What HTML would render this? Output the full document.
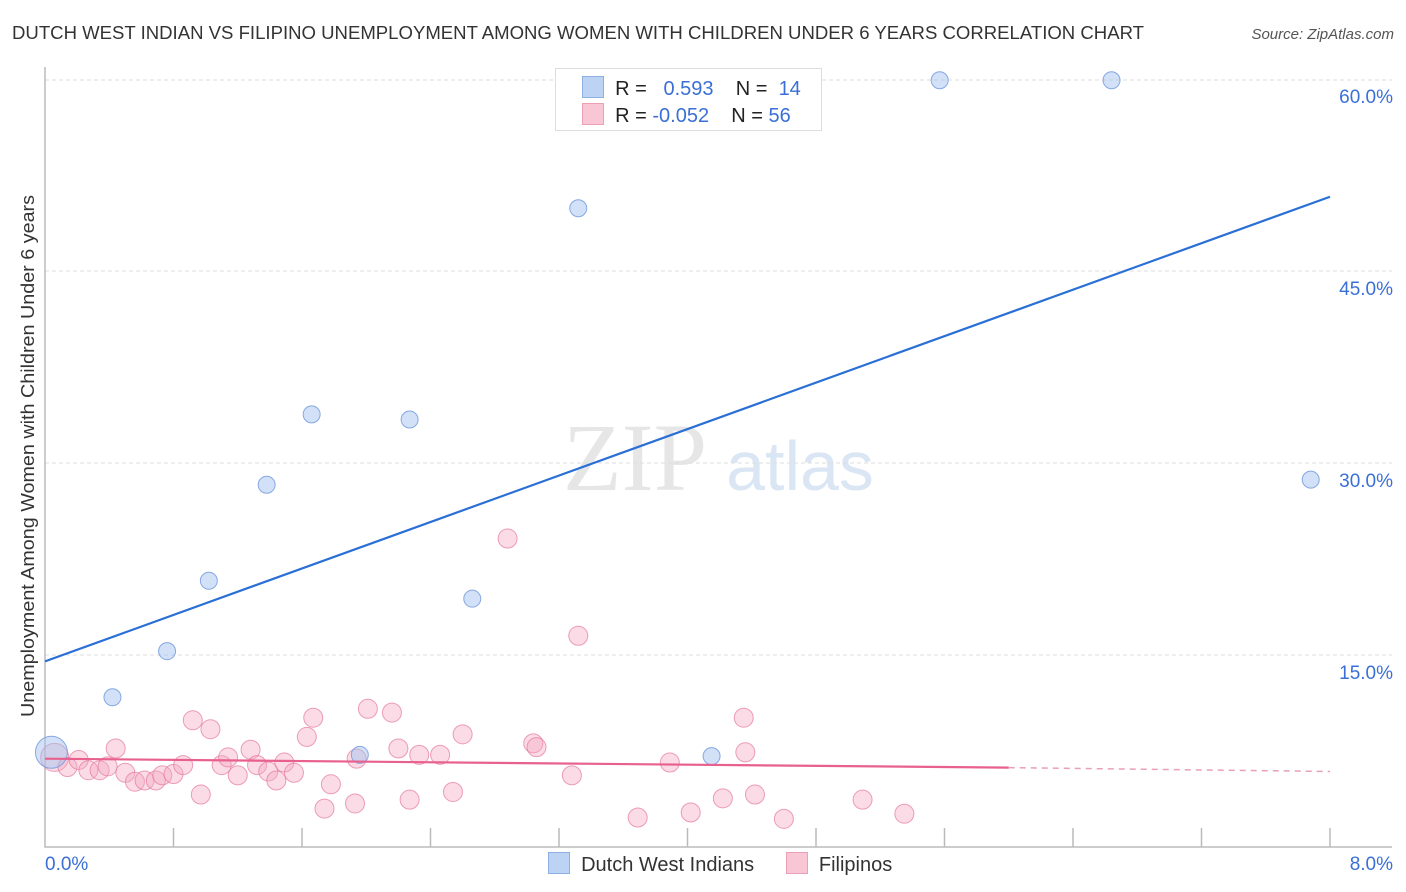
<!DOCTYPE html>
<html><head><meta charset="utf-8"><style>
body{margin:0;background:#fff;font-family:"Liberation Sans",sans-serif;}
#wrap{position:relative;width:1406px;height:892px;overflow:hidden;}
</style></head><body>
<div id="wrap">
<svg id="svg" width="1406" height="892" xmlns="http://www.w3.org/2000/svg">
<text x="12" y="39" font-size="18" fill="#333" textLength="1132" lengthAdjust="spacingAndGlyphs">DUTCH WEST INDIAN VS FILIPINO UNEMPLOYMENT AMONG WOMEN WITH CHILDREN UNDER 6 YEARS CORRELATION CHART</text>
<text x="1394" y="39" font-size="15" fill="#555" font-style="italic" text-anchor="end">Source: ZipAtlas.com</text>
<text x="635" y="490" font-size="96" fill="#e6e6e6" font-family="Liberation Serif,serif" text-anchor="middle">ZIP</text>
<text x="800" y="490" font-size="70" fill="#dbe6f5" text-anchor="middle">atlas</text>
<text transform="translate(34,456) rotate(-90)" font-size="18" fill="#333" text-anchor="middle" textLength="522" lengthAdjust="spacingAndGlyphs">Unemployment Among Women with Children Under 6 years</text>
<g id="grid"></g><g id="marks"></g>
</svg>
<div style="position:absolute;left:555px;top:68px;width:265px;height:61px;border:1px solid #ddd;background:#fff;font-size:20px;color:#222;">
 <div style="position:absolute;left:26px;top:7px;white-space:nowrap"><span style="display:inline-block;width:20px;height:20px;background:#bcd3f3;border:1px solid #8fb0e3;vertical-align:-3px"></span>&nbsp; R = &nbsp;&nbsp;<span style="color:#3a70d6">0.593</span>&nbsp;&nbsp;&nbsp; N = &nbsp;<span style="color:#3a70d6">14</span></div>
 <div style="position:absolute;left:26px;top:34px;white-space:nowrap"><span style="display:inline-block;width:20px;height:20px;background:#f9c6d5;border:1px solid #eba0b8;vertical-align:-3px"></span>&nbsp; R = <span style="color:#3a70d6">-0.052</span>&nbsp;&nbsp;&nbsp; N = <span style="color:#3a70d6">56</span></div>
</div>
<div style="position:absolute;left:548px;top:852px;font-size:20px;color:#333;white-space:nowrap">
 <span><span style="display:inline-block;width:20px;height:20px;background:#bcd3f3;border:1px solid #8fb0e3;vertical-align:-3px"></span>&nbsp; Dutch West Indians</span>
 <span style="margin-left:26px"><span style="display:inline-block;width:20px;height:20px;background:#f9c6d5;border:1px solid #eba0b8;vertical-align:-3px"></span>&nbsp; Filipinos</span>
</div>
</div>
<script>
const xTicks=[0,0.8,1.6,2.4,3.2,4,4.8,5.6,6.4,7.2,8];
const yTicks=[15,30,45,60];
const yTickLabels=["15.0%","30.0%","45.0%","60.0%"];
const xTickLabels=["0.0%","8.0%"];
const dutchX=[0.04,0.42,0.76,1.02,1.38,1.66,2.27,2.66,3.32,1.96,4.15,5.57,6.64,7.88];
const dutchY=[7.4,11.7,15.3,20.8,28.3,33.8,33.4,19.4,49.9,7.2,7.1,59.9,59.9,28.7];
const filX=[0.06,0.14,0.21,0.27,0.34,0.39,0.44,0.50,0.56,0.62,0.69,0.73,0.80,0.86,0.92,0.97,1.03,1.10,1.14,1.20,1.28,1.32,1.39,1.44,1.49,1.55,1.63,1.67,1.74,1.78,1.93,1.94,2.01,2.16,2.20,2.27,2.33,2.46,2.54,2.60,2.88,3.04,3.06,3.28,3.32,3.69,3.89,4.02,4.22,4.35,4.36,4.42,4.60,5.09,5.35];
const filY=[7.0,6.25,6.8,6.0,6.0,6.3,7.7,5.8,5.1,5.2,5.2,5.6,5.7,6.4,9.9,4.1,9.2,6.4,7.0,5.6,7.6,6.4,5.9,5.2,6.6,5.8,8.6,10.1,3.0,4.9,3.4,6.9,10.8,10.5,7.7,3.7,7.2,7.2,4.3,8.8,24.1,8.1,7.8,5.6,16.5,2.3,6.6,2.7,3.8,10.1,7.4,4.1,2.2,3.7,2.6];
const dutchLine=[[0,14.5],[8,50.8]];
const filLine=[[0,6.9],[6,6.2],[8,5.9]];
const NS="http://www.w3.org/2000/svg";
const X=v=>45+v*160.625, Y=v=>847-v*12.8;
const grid=document.getElementById('grid'), marks=document.getElementById('marks');
function mk(tag,attrs,parent){const e=document.createElementNS(NS,tag);for(const k in attrs)e.setAttribute(k,attrs[k]);parent.appendChild(e);return e;}
yTicks.forEach((t,i)=>{
 const l=mk('line',{x1:45,x2:1392,y1:Y(t)-((t==60)?-1:0),y2:Y(t)-((t==60)?-1:0),stroke:'#ddd','stroke-dasharray':'4,3'},grid);
 
 
 const tx=mk('text',{x:1393,y:Y(t)+24,'font-size':19,fill:'#3a70d6','text-anchor':'end'},grid);tx.textContent=yTickLabels[i];
 
 
});
const ax=mk('path',{d:'M45,67 V847 H1392',stroke:'#bbb',fill:'none','stroke-width':1.5},grid);


xTicks.forEach((t,i)=>{if(i==0)return;
 const l=mk('line',{x1:X(t),x2:X(t),y1:828,y2:847,stroke:'#bbb','stroke-width':1.5},grid);
 
 
});
[[0,'start',45],[1,'end',1393]].forEach(([i,a,x])=>{const tx=mk('text',{x:x,y:870,'font-size':19,fill:'#3a70d6','text-anchor':a},grid);tx.textContent=xTickLabels[i];
 
 });
filX.forEach((v,i)=>{const c=mk('circle',{cx:X(v),cy:Y(filY[i]),r:i==0?14:9.5,fill:'rgba(246,168,192,0.4)',stroke:'rgba(228,120,155,0.7)','stroke-width':1},marks);
 
 });
dutchX.forEach((v,i)=>{const c=mk('circle',{cx:X(v),cy:Y(dutchY[i]),r:i==0?16:8.5,fill:'rgba(165,195,240,0.5)',stroke:'rgba(110,150,220,0.8)','stroke-width':1},marks);
 
 });
const bl=mk('line',{x1:X(dutchLine[0][0]),y1:Y(dutchLine[0][1]),x2:X(dutchLine[1][0]),y2:Y(dutchLine[1][1]),stroke:'#2a6fd6','stroke-width':2.2},marks);


const pl=mk('line',{x1:X(filLine[0][0]),y1:Y(filLine[0][1]),x2:X(filLine[1][0]),y2:Y(filLine[1][1]),stroke:'#e8608e','stroke-width':2.2},marks);


const pd=mk('line',{x1:X(filLine[1][0]),y1:Y(filLine[1][1]),x2:X(filLine[2][0]),y2:Y(filLine[2][1]),stroke:'#e8a0b8','stroke-width':1.5,'stroke-dasharray':'6,5'},marks);


</script>
</body></html>
